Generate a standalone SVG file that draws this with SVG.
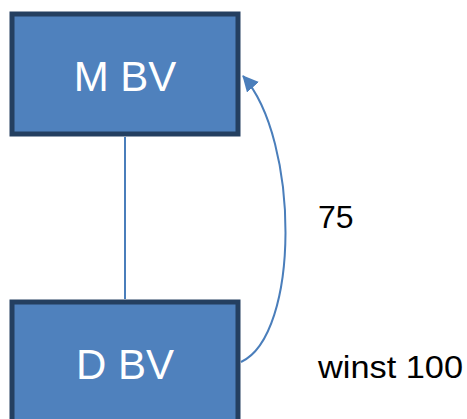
<svg xmlns="http://www.w3.org/2000/svg" width="467" height="419" viewBox="0 0 467 419">
  <style>
    .box { fill: #4f81bd; stroke: #243f60; stroke-width: 5; }
    .label { font-family: "Liberation Sans", Arial, sans-serif; fill: #ffffff; font-size: 42px; text-anchor: middle; }
    .note { font-family: "Liberation Sans", Arial, sans-serif; fill: #000000; font-size: 32px; }
    .link { fill: none; stroke: #4a7ebb; stroke-width: 2; }
  </style>
  <defs>
    <marker id="arrow" viewBox="0 0 10 10" refX="9" refY="5" markerWidth="8" markerHeight="8" markerUnits="userSpaceOnUse" orient="auto">
      <path d="M0,0 L10,5 L0,10 Z" fill="#4a7ebb"/>
    </marker>
    <marker id="arrowBig" viewBox="0 0 16 16" refX="15" refY="8" markerWidth="16" markerHeight="16" markerUnits="userSpaceOnUse" orient="auto">
      <path d="M0,0 L16,8 L0,16 Z" fill="#4a7ebb"/>
    </marker>
  </defs>

  <g id="connectors">
    <line class="link" x1="125" y1="137" x2="125" y2="299" stroke-width="1.5"/>
    <path class="link" d="M241,362 C300,335 300,140 243,76" marker-end="url(#arrowBig)"/>
  </g>

  <g id="node-mbv">
    <rect class="box" x="12" y="14" width="226" height="120"/>
    <text class="label" x="125" y="91">M BV</text>
  </g>

  <g id="node-dbv">
    <rect class="box" x="12" y="302" width="226" height="125"/>
    <text class="label" x="125" y="379">D BV</text>
  </g>

  <g id="notes">
    <text class="note" x="318" y="228">75</text>
    <text class="note" x="318" y="378" textLength="145" lengthAdjust="spacingAndGlyphs">winst 100</text>
  </g>
</svg>
